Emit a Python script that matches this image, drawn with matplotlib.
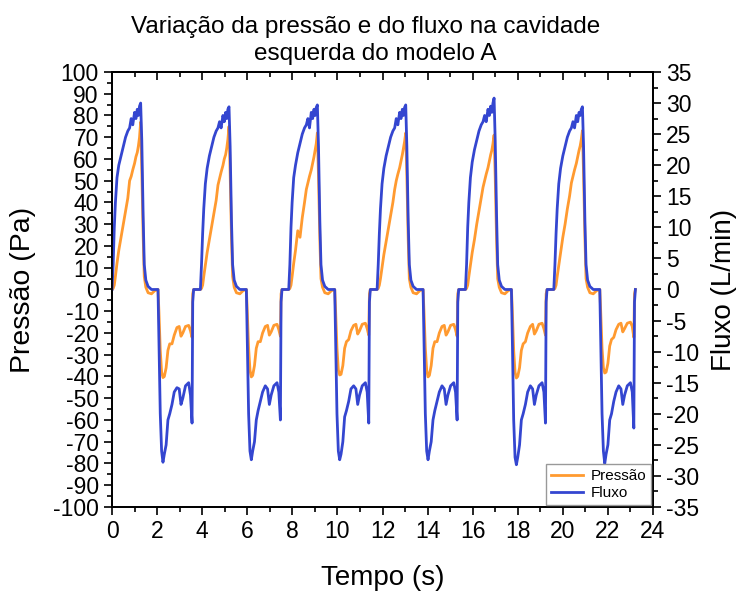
import matplotlib
matplotlib.use('Agg')
import matplotlib.pyplot as plt
from matplotlib.ticker import MultipleLocator

plt.rcParams['font.family'] = ['Liberation Sans', 'DejaVu Sans']
plt.rcParams['axes.unicode_minus'] = False

# tempo (s): 6 cycles
tempo = [
    0.00, 0.05, 0.10, 0.15, 0.22, 0.30, 0.40, 0.50, 0.60, 0.70, 0.78, 0.85, 0.92, 1.00, 1.06, 1.12,
    1.17, 1.22, 1.27, 1.32, 1.38, 1.43, 1.50, 1.60, 1.75, 1.90, 2.04, 2.08, 2.14, 2.20, 2.26, 2.32,
    2.40, 2.48, 2.56, 2.66, 2.76, 2.88, 2.98, 3.06, 3.14, 3.26, 3.40, 3.48, 3.55, 3.58, 3.62,
    3.92, 3.97, 4.02, 4.07, 4.14, 4.22, 4.32, 4.42, 4.52, 4.62, 4.70, 4.77, 4.84, 4.92, 4.98, 5.04,
    5.09, 5.14, 5.19, 5.24, 5.30, 5.35, 5.42, 5.52, 5.67, 5.82, 5.96, 6.00, 6.06, 6.12, 6.18, 6.24,
    6.32, 6.40, 6.48, 6.58, 6.68, 6.80, 6.90, 6.98, 7.06, 7.18, 7.32, 7.40, 7.47, 7.50, 7.54,
    7.84, 7.89, 7.94, 7.99, 8.06, 8.14, 8.24, 8.34, 8.44, 8.54, 8.62, 8.69, 8.76, 8.84, 8.90, 8.96,
    9.01, 9.06, 9.11, 9.16, 9.22, 9.27, 9.34, 9.44, 9.59, 9.74, 9.88, 9.92, 9.98, 10.04, 10.10, 10.16,
    10.24, 10.32, 10.40, 10.50, 10.60, 10.72, 10.82, 10.90, 10.98, 11.10, 11.24, 11.32, 11.39, 11.42, 11.46,
    11.76, 11.81, 11.86, 11.91, 11.98, 12.06, 12.16, 12.26, 12.36, 12.46, 12.54, 12.61, 12.68, 12.76, 12.82, 12.88,
    12.93, 12.98, 13.03, 13.08, 13.14, 13.19, 13.26, 13.36, 13.51, 13.66, 13.80, 13.84, 13.90, 13.96, 14.02, 14.08,
    14.16, 14.24, 14.32, 14.42, 14.52, 14.64, 14.74, 14.82, 14.90, 15.02, 15.16, 15.24, 15.31, 15.34, 15.38,
    15.68, 15.73, 15.78, 15.83, 15.90, 15.98, 16.08, 16.18, 16.28, 16.38, 16.46, 16.53, 16.60, 16.68, 16.74, 16.80,
    16.85, 16.90, 16.95, 17.00, 17.06, 17.11, 17.18, 17.28, 17.43, 17.58, 17.72, 17.76, 17.82, 17.88, 17.94, 18.00,
    18.08, 18.16, 18.24, 18.34, 18.44, 18.56, 18.66, 18.74, 18.82, 18.94, 19.08, 19.16, 19.23, 19.26, 19.30,
    19.60, 19.65, 19.70, 19.75, 19.82, 19.90, 20.00, 20.10, 20.20, 20.30, 20.38, 20.45, 20.52, 20.60, 20.66, 20.72,
    20.77, 20.82, 20.87, 20.92, 20.98, 21.03, 21.10, 21.20, 21.35, 21.50, 21.64, 21.68, 21.74, 21.80, 21.86, 21.92,
    22.00, 22.08, 22.16, 22.26, 22.36, 22.48, 22.58, 22.66, 22.74, 22.86, 23.00, 23.08, 23.15, 23.18, 23.22,
]

# pressão (Pa)
pressao = [
    0, 0.5, 2, 6, 12, 18, 24, 30, 36, 42, 50, 52, 55, 58, 61, 63,
    66, 70, 77, 55, 25, 6, 1, -1.5, -2, -0.5, 0, -10, -28, -38, -40.5, -40,
    -36, -28, -25, -25, -21, -17.5, -17, -21.5, -20, -17, -16.5, -19, -22, -2, 0,
    0, 0.5, 2, 6, 11, 17, 23, 29, 35, 41, 48, 51, 54, 57, 60, 62,
    65, 69, 75, 54, 24, 6, 1, -1.5, -2, -0.5, 0, -10, -27, -37, -40.2, -39.5,
    -35, -27, -24, -24, -20, -17, -16.5, -21, -19.5, -16.5, -16, -18.5, -21.5, -2, 0,
    0, 0.5, 2, 6, 12, 18, 27, 24, 33, 40, 46, 49, 52, 55, 58, 61,
    64, 67, 72, 52, 23, 5, 1, -1.5, -2, -0.5, 0, -10, -27, -37, -39.3, -39,
    -35, -27, -24, -23, -19, -16.5, -16, -20.5, -19, -16, -15.5, -18, -21, -2, 0,
    0, 0.5, 2, 5, 10, 16, 22, 28, 34, 40, 46, 50, 53, 56, 59, 62,
    65, 68, 72, 52, 23, 5, 1, -1.5, -2, -0.5, 0, -10, -27, -37, -40.2, -39.5,
    -35, -27, -24, -24, -20, -17, -16.5, -21, -19.5, -16.5, -16, -18.5, -21.5, -2, 0,
    0, 0.5, 2, 6, 11, 17, 23, 30, 36, 42, 47, 50, 53, 56, 59, 62,
    64, 67, 71, 52, 23, 5, 1, -1.5, -2, -0.5, 0, -10, -28, -38, -40.7, -40,
    -36, -28, -25, -24, -20, -17, -16, -20.5, -19, -16, -15.5, -18, -21, -2, 0,
    0, 0.5, 2, 6, 11, 17, 24, 30, 37, 43, 49, 52, 55, 58, 61, 64,
    66, 69, 73, 53, 24, 5, 1, -1.5, -2, -0.5, 0, -10, -27, -36, -38.4, -38,
    -34, -26, -23, -22, -18.5, -16, -15.5, -19.5, -18, -15.5, -15, -17, -22, -2, 0,
]

# fluxo (L/min)
fluxo = [
    0, 4, 10, 14, 18, 20, 21.5, 23, 24.5, 25.5, 26, 27.5, 26.5, 28.5, 27.5, 29,
    28, 29.5, 30, 24, 12, 4, 1.5, 0.5, 0, 0, 0, -8, -20, -26, -27.8, -26.5,
    -25, -21, -20, -18.5, -16.5, -15.8, -16, -18.5, -17.5, -15.5, -15, -17, -21.5, -2, 0,
    0, 4, 9, 13, 17, 19.5, 21.5, 23, 24.5, 25.5, 26, 27, 26, 28, 27, 28.5,
    27.5, 29, 29.4, 23, 11, 4, 1.5, 0.5, 0, 0, 0, -8, -20, -26, -27.4, -26,
    -24.5, -21, -19.5, -18, -16.5, -15.5, -16, -18.5, -17, -15.5, -15, -16.5, -21, -2, 0,
    0, 4, 10, 14, 18, 20, 22, 23.5, 25, 26, 26.5, 27.5, 26, 28.5, 27.5, 29,
    28, 29.3, 29.7, 23, 11, 4, 1.5, 0.5, 0, 0, 0, -8, -20, -26, -27.4, -26.5,
    -24.5, -20.5, -19.5, -18, -16, -15.5, -16, -18.5, -17, -15.5, -15, -16.5, -21.5, -2, 0,
    0, 4, 9, 13, 17, 19.5, 21.5, 23, 24.5, 25.5, 26, 27.5, 26.5, 28.5, 27.5, 29,
    28, 29.3, 29.7, 23, 11, 4, 1.5, 0.5, 0, 0, 0, -8, -20, -26, -27.4, -26,
    -24.5, -21, -19.5, -18, -16.5, -15.5, -16, -18.5, -17, -15.5, -15, -16.5, -21, -2, 0,
    0, 4, 10, 14, 18, 20.5, 22.5, 24, 25.5, 26.5, 27, 28, 27, 29, 28, 29.5,
    28.5, 30, 30.8, 24, 12, 4, 1.5, 0.5, 0, 0, 0, -8, -21, -27, -28.2, -27,
    -25, -21, -20, -18.5, -16.5, -15.5, -16, -18.5, -17, -15.5, -15, -16.5, -21.5, -2, 0,
    0, 4, 9, 13, 17, 19.5, 21.5, 23, 24.5, 25.5, 26, 27, 26, 28, 27, 28.5,
    28, 29, 29.4, 23, 11, 4, 1.5, 0.5, 0, 0, 0, -8, -20, -26, -28, -26.5,
    -25, -21, -20, -18, -16.5, -15.5, -16, -18.5, -17, -15.5, -15, -16.5, -22.3, -2, 0,
]

cor_pressao = '#FF9A30'
cor_fluxo = '#3446D0'

fig = plt.figure(figsize=(7.38, 5.92), dpi=100)
ax = fig.add_axes([0.1518, 0.1436, 0.733, 0.7348])
ax2 = ax.twinx()

l1, = ax.plot(tempo, pressao, color=cor_pressao, lw=2.0, label='Pressão')
l2, = ax2.plot(tempo, fluxo, color=cor_fluxo, lw=2.0, label='Fluxo')

ax.set_xlim(0, 24)
ax.set_ylim(-100, 100)
ax2.set_ylim(-35, 35)

ax.xaxis.set_major_locator(MultipleLocator(2))
ax.xaxis.set_minor_locator(MultipleLocator(1))
ax.yaxis.set_major_locator(MultipleLocator(10))
ax.yaxis.set_minor_locator(MultipleLocator(5))
ax2.yaxis.set_major_locator(MultipleLocator(5))
ax2.yaxis.set_minor_locator(MultipleLocator(2.5))

for a in (ax, ax2):
    a.tick_params(which='major', direction='out', length=6, width=1.2, labelsize=16.5)
    a.tick_params(which='minor', direction='out', length=3.5, width=1.2)
    for s in a.spines.values():
        s.set_linewidth(1.3)
ax.tick_params(which='both', right=False, top=False)

topo = ax.secondary_xaxis('top')
topo.xaxis.set_major_locator(MultipleLocator(2))
topo.xaxis.set_minor_locator(MultipleLocator(1))
topo.tick_params(which='major', direction='in', length=6, width=1.2, labeltop=False)
topo.tick_params(which='minor', direction='in', length=3.5, width=1.2)
topo.spines['top'].set_linewidth(1.3)

ax.set_xlabel('Tempo (s)', fontsize=20)
ax.set_ylabel('Pressão (Pa)', fontsize=20.5)
ax2.set_ylabel('Fluxo (L/min)', fontsize=20)
ax.xaxis.set_label_coords(0.5, -0.133)
ax.yaxis.set_label_coords(-0.14, 0.5)
ax2.yaxis.set_label_coords(1.108, 0.5)

fig.text(0.496, 0.9443, 'Variação da pressão e do fluxo na cavidade', ha='center', va='baseline', fontsize=17.5)
fig.text(0.508, 0.8986, 'esquerda do modelo A', ha='center', va='baseline', fontsize=17.5)

leg = ax2.legend([l1, l2], ['Pressão', 'Fluxo'], loc='lower right', fontsize=11,
                 fancybox=False, framealpha=1, edgecolor='#999999',
                 borderaxespad=0.15, handlelength=2.1, handletextpad=0.5,
                 labelspacing=0.2, borderpad=0.3)
leg.get_frame().set_linewidth(1.0)

fig.savefig('out.png', dpi=100)
